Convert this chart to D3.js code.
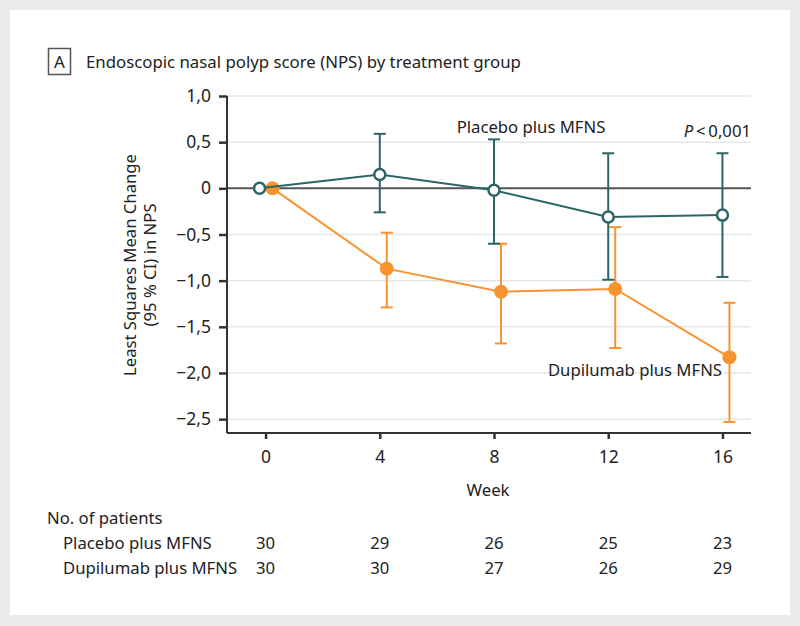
<!DOCTYPE html>
<html lang="en">

<head>
  <meta charset="UTF-8">
  <title>NPS by treatment group</title>
  <script src="https://cdn.jsdelivr.net/npm/d3@7"></script>
  <style>
    body {
      margin: 0;
      background: #ebebeb;
    }

    text {
      font-family: 'Noto Sans', sans-serif;
      fill: #222;
    }

    .tick text {
      font-size: 17.5px;
    }

    .grid line {
      stroke: #e3e7e8;
      stroke-width: 1.5;
    }
  </style>
</head>

<body>
  <svg width="800" height="626"></svg>
  <script>
    const weeks = [0, 4, 8, 12, 16];
    const yTicks = [1, 0.5, 0, -0.5, -1, -1.5, -2, -2.5];

    const placeboMean = [0, 0.15, -0.02, -0.31, -0.29];
    const placeboLow = [0, -0.26, -0.60, -0.99, -0.96];
    const placeboHigh = [0, 0.59, 0.53, 0.38, 0.38];

    const dupiMean = [0, -0.87, -1.12, -1.09, -1.83];
    const dupiLow = [0, -1.29, -1.68, -1.73, -2.53];
    const dupiHigh = [0, -0.48, -0.60, -0.42, -1.24];

    const patientRows = ['Placebo plus MFNS', 'Dupilumab plus MFNS'];
    const placeboN = [30, 29, 26, 25, 23];
    const dupiN = [30, 30, 27, 26, 29];

    const teal = '#2d6466';
    const orange = '#f79431';
    const fs = '16.7px';

    const svg = d3.select('svg');

    // white panel
    svg.append('rect')
      .attr('x', 10)
      .attr('y', 10)
      .attr('width', 780)
      .attr('height', 605)
      .attr('fill', '#fff');

    const x = d3.scaleLinear().domain([-1.35, 17]).range([227, 751]);
    const y = d3.scaleLinear().domain([-2.65, 1]).range([433, 96]);

    // title
    svg.append('rect')
      .attr('x', 48.5)
      .attr('y', 48.5)
      .attr('width', 22)
      .attr('height', 26)
      .attr('fill', 'none')
      .attr('stroke', '#555')
      .attr('stroke-width', 1.5);
    svg.append('text')
      .attr('x', 59.5)
      .attr('y', 68)
      .attr('text-anchor', 'middle')
      .style('font-size', '17px')
      .text('A');
    svg.append('text')
      .attr('x', 86)
      .attr('y', 68)
      .style('font-size', '16.8px')
      .text('Endoscopic nasal polyp score (NPS) by treatment group');

    // grid
    svg.append('g')
      .attr('class', 'grid')
      .selectAll('line')
      .data(yTicks.filter(d => d !== 0))
      .join('line')
      .attr('x1', x.range()[0])
      .attr('x2', x.range()[1])
      .attr('y1', d => y(d))
      .attr('y2', d => y(d));

    svg.append('line')
      .attr('x1', x.range()[0])
      .attr('x2', x.range()[1])
      .attr('y1', y(0))
      .attr('y2', y(0))
      .attr('stroke', '#555')
      .attr('stroke-width', 2);

    const fmt = d => (d === 0 ? '0' : (d < 0 ? '\u2212' : '') + d3.format('.1f')(Math.abs(d)).replace('.', ','));

    const yAxis = svg.append('g')
      .attr('transform', `translate(${x.range()[0]},0)`)
      .call(d3.axisLeft(y).tickValues(yTicks).tickFormat(fmt).tickSize(8).tickPadding(8));
    const xAxis = svg.append('g')
      .attr('transform', `translate(0,${y.range()[0]})`)
      .call(d3.axisBottom(x).tickValues(weeks).tickSize(6).tickPadding(12));

    [yAxis, xAxis].forEach(ax => {
      ax.select('.domain').attr('stroke', '#333').attr('stroke-width', 2);
      ax.selectAll('.tick line').attr('stroke', '#333').attr('stroke-width', 2.5);
      ax.selectAll('.tick text').attr('fill', '#222');
    });
    xAxis.select('.domain').attr('d', `M${x.range()[0]},0H${x.range()[1]}`);
    yAxis.select('.domain').attr('d', `M0,${y.range()[1]}V${y.range()[0]}`);

    // axis titles
    svg.append('text')
      .attr('transform', `translate(140,265) rotate(-90)`)
      .attr('text-anchor', 'middle')
      .style('font-size', fs)
      .selectAll('tspan')
      .data(['Least Squares Mean Change', '(95 % CI) in NPS'])
      .join('tspan')
      .attr('x', 0)
      .attr('dy', (d, i) => (i === 0 ? -4 : 20))
      .text(d => d);

    svg.append('text')
      .attr('x', 488)
      .attr('y', 496)
      .attr('text-anchor', 'middle')
      .style('font-size', fs)
      .text('Week');

    // series
    const series = [
      { name: 'placebo', mean: placeboMean, low: placeboLow, high: placeboHigh, color: teal, dodge: w => (w === 0 ? -6 : 0) },
      { name: 'dupi', mean: dupiMean, low: dupiLow, high: dupiHigh, color: orange, dodge: () => 7 }
    ];

    // draw dupilumab first, placebo on top
    series.slice().reverse().forEach(s => {
      const pts = weeks.map((w, i) => ({ x: x(w) + s.dodge(w), m: s.mean[i], lo: s.low[i], hi: s.high[i] }));
      const g = svg.append('g');

      const bars = g.selectAll('.err')
        .data(pts.filter(p => p.lo !== p.hi))
        .join('g')
        .attr('stroke', s.color)
        .attr('stroke-width', 2);
      bars.append('line')
        .attr('x1', p => p.x).attr('x2', p => p.x)
        .attr('y1', p => y(p.lo)).attr('y2', p => y(p.hi));
      bars.append('line')
        .attr('x1', p => p.x - 6).attr('x2', p => p.x + 6)
        .attr('y1', p => y(p.lo)).attr('y2', p => y(p.lo));
      bars.append('line')
        .attr('x1', p => p.x - 6).attr('x2', p => p.x + 6)
        .attr('y1', p => y(p.hi)).attr('y2', p => y(p.hi));

      g.append('path')
        .datum(pts)
        .attr('fill', 'none')
        .attr('stroke', s.color)
        .attr('stroke-width', 2)
        .attr('d', d3.line().x(p => p.x).y(p => y(p.m)));

      g.selectAll('circle')
        .data(pts)
        .join('circle')
        .attr('cx', p => p.x)
        .attr('cy', p => y(p.m))
        .attr('r', s.name === 'placebo' ? 5.5 : 7)
        .attr('fill', s.name === 'placebo' ? '#fff' : s.color)
        .attr('stroke', s.color)
        .attr('stroke-width', s.name === 'placebo' ? 2.5 : 0);
    });

    // labels in plot
    svg.append('text')
      .attr('x', 531)
      .attr('y', 133)
      .attr('text-anchor', 'middle')
      .style('font-size', fs)
      .text('Placebo plus MFNS');

    const pText = svg.append('text')
      .attr('x', 751)
      .attr('y', 137)
      .attr('text-anchor', 'end')
      .style('font-size', fs);
    pText.append('tspan').style('font-style', 'italic').text('P');
    pText.append('tspan').text('\u2009<\u20090,001');

    svg.append('text')
      .attr('x', 722)
      .attr('y', 376)
      .attr('text-anchor', 'end')
      .style('font-size', fs)
      .text('Dupilumab plus MFNS');

    // patients table
    svg.append('text')
      .attr('x', 47)
      .attr('y', 524)
      .style('font-size', fs)
      .text('No. of patients');

    [placeboN, dupiN].forEach((row, r) => {
      const ty = 549 + r * 25;
      svg.append('text')
        .attr('x', 63)
        .attr('y', ty)
        .style('font-size', fs)
        .text(patientRows[r]);
      svg.append('g')
        .selectAll('text')
        .data(row)
        .join('text')
        .attr('x', (d, i) => x(weeks[i]))
        .attr('y', ty)
        .attr('text-anchor', 'middle')
        .style('font-size', fs)
        .text(d => d);
    });
  </script>
</body>

</html>
